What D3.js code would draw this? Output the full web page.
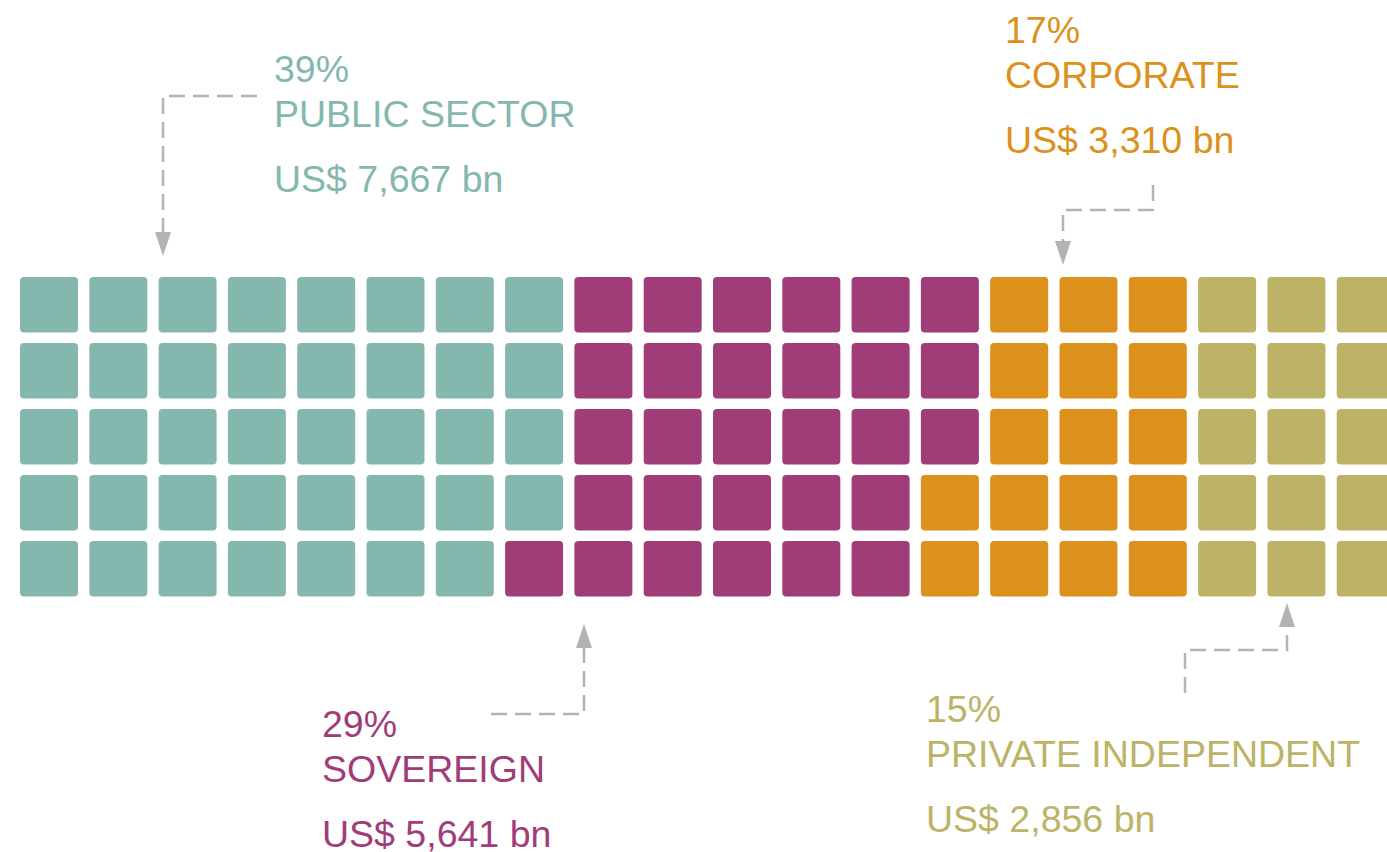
<!DOCTYPE html>
<html>
<head>
<meta charset="utf-8">
<script src="https://cdn.jsdelivr.net/npm/d3@7"></script>
<style>
  body { margin: 0; background: #fff; }
  svg text { font-family: "Liberation Sans", Arial, sans-serif; }
</style>
</head>
<body>
<div id="chart"></div>
<script>
// waffle of assets by owner type -- 100 squares, filled column by column

const categories = ["PUBLIC SECTOR", "SOVEREIGN", "CORPORATE", "PRIVATE INDEPENDENT"];
const shares = [39, 29, 17, 15];
const amounts = ["US$ 7,667 bn", "US$ 5,641 bn", "US$ 3,310 bn", "US$ 2,856 bn"];
const colors = ["#84b8ae", "#a03d78", "#dc911c", "#bcb367"];

const nRows = 5, nCols = 20;

const width = 1387, height = 852;

const svg = d3.select("#chart").append("svg")
    .attr("width", width)
    .attr("height", height);

// one cell per percent point
let cells = [];
shares.forEach((s, i) => {
    for (let k = 0; k < s; k++) cells.push({ cat: i });
});
cells.forEach((d, i) => {
    d.col = Math.floor(i / nRows);
    d.row = i % nRows;
});

const xScale = d3.scaleBand()
    .domain(d3.range(nCols))
    .range([20, 1394.7])
    .paddingInner(0.163)
    .paddingOuter(0);

const yScale = d3.scaleBand()
    .domain(d3.range(nRows))
    .range([277, 596.5])
    .paddingInner(0.159)
    .paddingOuter(0);

svg.append("g")
    .selectAll("rect")
    .data(cells)
    .join("rect")
    .attr("x", d => xScale(d.col))
    .attr("y", d => yScale(d.row))
    .attr("width", xScale.bandwidth())
    .attr("height", yScale.bandwidth())
    .attr("rx", 4)
    .attr("fill", d => colors[d.cat]);

// arrow head, drawn pointing along +x so orient=auto turns it the right way
svg.append("defs").append("marker")
    .attr("id", "arrow")
    .attr("viewBox", "0 0 24 16")
    .attr("refX", 24).attr("refY", 8)
    .attr("markerWidth", 24).attr("markerHeight", 16)
    .attr("markerUnits", "userSpaceOnUse")
    .attr("orient", "auto")
    .append("path")
    .attr("d", "M0,0 L24,8 L0,16 Z")
    .attr("fill", "#b3b3b3");

// labels: x, baseline of first line, connector path (ends at arrow tip)
const labels = [
    { x: 274, y: 82, path: [[257, 96], [163, 96], [163, 256]] },
    { x: 322, y: 737, path: [[491, 714], [584, 714], [584, 624]] },
    { x: 1005, y: 43, path: [[1153, 185], [1153, 210], [1063, 210], [1063, 265]] },
    { x: 926, y: 722, path: [[1185, 693], [1185, 650], [1287, 650], [1287, 603]] }
];

const line = d3.line();

labels.forEach((l, i) => {
    const g = svg.append("g").attr("fill", colors[i]).attr("font-size", 37.5);
    g.append("text").attr("x", l.x).attr("y", l.y).text(shares[i] + "%");
    g.append("text").attr("x", l.x).attr("y", l.y + 45).text(categories[i]);
    g.append("text").attr("x", l.x).attr("y", l.y + 110).text(amounts[i]);

    // stop the dashes short so the marker tip lands on the end point
    const pts = l.path.map(p => p.slice());
    const tip = pts[pts.length - 1];
    const prev = pts[pts.length - 2];
    const dir = Math.sign(tip[1] - prev[1]);
    const base = [tip[0], tip[1] - dir * 24];
    pts[pts.length - 1] = base;
    svg.append("path")
        .attr("d", line(pts))
        .attr("fill", "none")
        .attr("stroke", "#b3b3b3")
        .attr("stroke-width", 2.5)
        .attr("stroke-dasharray", "16,8");
    svg.append("path")
        .attr("d", line([base, tip]))
        .attr("stroke", "none")
        .attr("fill", "none")
        .attr("marker-end", "url(#arrow)");
});
</script>
</body>
</html>
